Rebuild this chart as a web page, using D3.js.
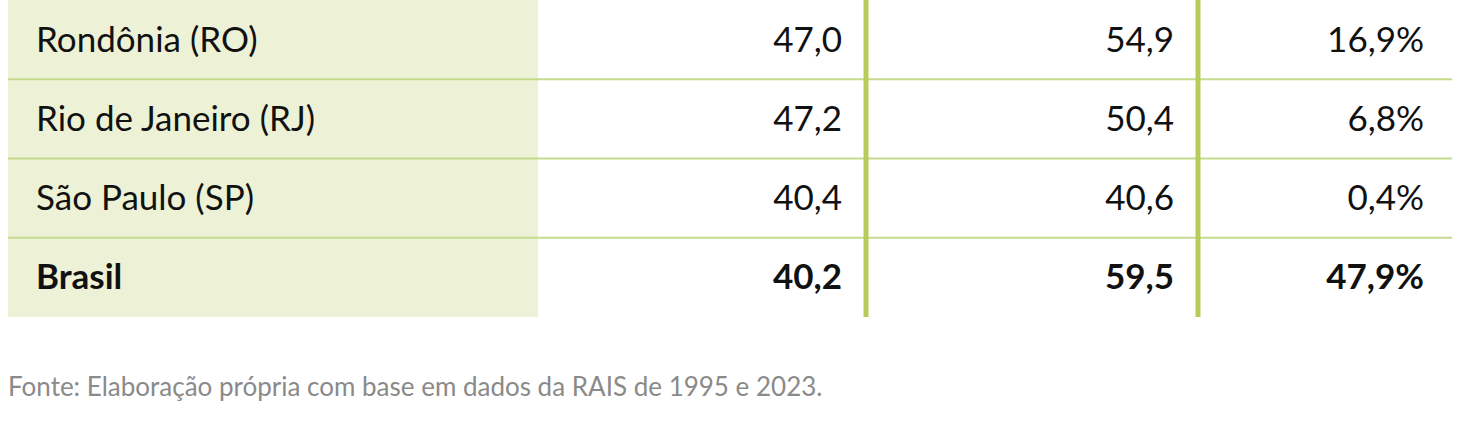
<!DOCTYPE html>
<html><head><meta charset="utf-8">
<script src="https://cdn.jsdelivr.net/npm/d3@7"></script>
<style>body{margin:0;background:#fff}svg{display:block;font-family:Lato,sans-serif}</style>
</head><body><svg id="c" width="1464" height="428"></svg>
<script>
const states = ["Rondônia (RO)","Rio de Janeiro (RJ)","São Paulo (SP)","Brasil"];
const v1995 = ["47,0","47,2","40,4","40,2"];
const v2023 = ["54,9","50,4","40,6","59,5"];
const growth = ["16,9%","6,8%","0,4%","47,9%"];
const footer = "Fonte: Elaboração própria com base em dados da RAIS de 1995 e 2023.";

const svg = d3.select("#c");
const y = d3.scaleBand().domain(d3.range(states.length)).range([0,317]);
svg.append("rect").attr("x",8).attr("y",0).attr("width",530).attr("height",317).attr("fill","#edf2d6");
svg.selectAll("line.h").data(d3.range(1,states.length)).join("line")
  .attr("x1",8).attr("x2",1452).attr("y1",d=>y(d)).attr("y2",d=>y(d))
  .attr("stroke","#c6da8e").attr("stroke-width",2);
[866,1198].forEach(x=>svg.append("line").attr("x1",x).attr("x2",x).attr("y1",0).attr("y2",317)
  .attr("stroke","#b5cd58").attr("stroke-width",5));
const rows = svg.selectAll("g.r").data(states).join("g").attr("transform",(d,i)=>`translate(0,${y(i)+y.bandwidth()/2+12})`);
const fw = (d,i)=> i===states.length-1?700:400;
rows.append("text").attr("x",36).text(d=>d).attr("font-size",35).attr("font-weight",fw).attr("fill","#111");
[[v1995,842],[v2023,1174],[growth,1424]].forEach(([arr,x])=>{
  rows.append("text").attr("x",x).attr("text-anchor","end").text((d,i)=>arr[i])
   .attr("font-size",35).attr("font-weight",fw).attr("fill","#111");
});
svg.append("text").attr("x",8).attr("y",396).text(footer).attr("font-size",26).attr("fill","#8a8a8a");
</script></body></html>
